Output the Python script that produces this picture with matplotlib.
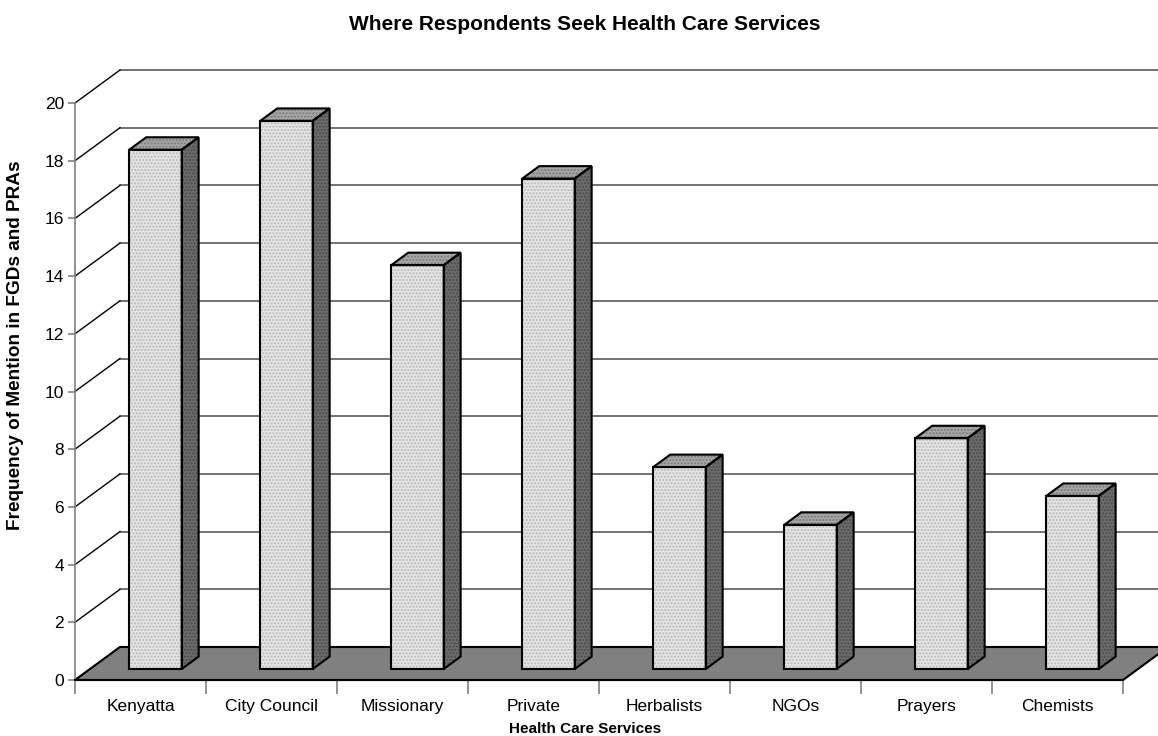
import matplotlib.pyplot as plt
from matplotlib.patches import Polygon
import numpy as np

categories = ['Kenyatta', 'City Council', 'Missionary', 'Private',
              'Herbalists', 'NGOs', 'Prayers', 'Chemists']
counts = [18, 19, 14, 17, 7, 5, 8, 6]
yticks = list(range(0, 21, 2))

title = 'Where Respondents Seek Health Care Services'
xlabel = 'Health Care Services'
ylabel = 'Frequency of Mention in FGDs and PRAs'

plt.rcParams['font.family'] = ['Liberation Sans', 'DejaVu Sans']

W, H = 1158, 736
fig = plt.figure(figsize=(W / 100, H / 100), dpi=100)
ax = fig.add_axes([75 / W, (H - 680) / H, 1048 / W, 577 / H])
n = len(categories)
ymax = 20
ax.set_xlim(-0.5, n - 0.5)
ax.set_ylim(0, ymax)

# depth of the 3d box in data units
dx = 45 / 131
dy = 33 / 577 * ymax
f0, f1 = 1 / 3, 0.71      # bar depth range (fraction of box depth)
bw = 0.4

# back wall gridlines + side diagonals
for v in yticks:
    if v > 0:
        ax.plot([-0.5 + dx, n - 0.5 + dx], [v + dy, v + dy], color='#5a5a5a',
                lw=1.2, clip_on=False, zorder=1)
    ax.plot([-0.5, -0.5 + dx], [v, v + dy], color='black', lw=1.0,
            clip_on=False, zorder=1)

# floor
floor = Polygon([(-0.5, 0), (n - 0.5, 0), (n - 0.5 + dx, dy), (-0.5 + dx, dy)],
                closed=True, facecolor='#808080', edgecolor='black', lw=1.5,
                clip_on=False, zorder=2)
ax.add_patch(floor)

# bars
b0 = f0 * dy
ddx, ddy = (f1 - f0) * dx, (f1 - f0) * dy
for i, v in enumerate(counts):
    x0 = i - bw / 2 + f0 * dx
    front = [(x0, b0), (x0 + bw, b0), (x0 + bw, b0 + v), (x0, b0 + v)]
    top = [(x0, b0 + v), (x0 + bw, b0 + v), (x0 + bw + ddx, b0 + v + ddy),
           (x0 + ddx, b0 + v + ddy)]
    side = [(x0 + bw, b0), (x0 + bw + ddx, b0 + ddy),
            (x0 + bw + ddx, b0 + v + ddy), (x0 + bw, b0 + v)]
    for pts, fc, hc in [(front, '#e4e4e4', '#b8b8b8'),
                        (top, '#a6a6a6', '#7a7a7a'),
                        (side, '#6c6c6c', '#4a4a4a')]:
        ax.add_patch(Polygon(pts, closed=True, facecolor=fc, edgecolor='none',
                             clip_on=False, zorder=3))
        ax.add_patch(Polygon(pts, closed=True, fill=False, edgecolor=hc, lw=0,
                             hatch='.....', clip_on=False, zorder=3))
        ax.add_patch(Polygon(pts, closed=True, fill=False, edgecolor='black',
                             lw=1.5, joinstyle='miter', clip_on=False, zorder=4))

# axes styling
for s in ['top', 'right']:
    ax.spines[s].set_visible(False)
ax.spines['left'].set_color('#808080')
ax.spines['left'].set_linewidth(1.2)
ax.spines['bottom'].set_color('black')
ax.spines['bottom'].set_linewidth(1.5)
ax.spines['bottom'].set_zorder(5)
ax.patch.set_visible(False)

ax.set_yticks(yticks)
ax.set_yticklabels([str(t) for t in yticks], fontsize=12.5)
ax.tick_params(axis='y', length=5, width=1.2, color='#808080', pad=3)

ax.set_xticks(np.arange(-0.5, n, 1))
ax.set_xticklabels([])
ax.tick_params(axis='x', which='major', length=10, width=1.2, color='#808080')
ax.set_xticks(np.arange(n), minor=True)
ax.set_xticklabels(categories, minor=True, fontsize=12.5)
ax.tick_params(axis='x', which='minor', length=0, pad=14)

fig.text(585 / W, 1 - 25 / H, title, ha='center', va='center',
         fontsize=15, fontweight='bold')
fig.text(585 / W, 1 - 729 / H, xlabel, ha='center', va='center',
         fontsize=11, fontweight='bold')
fig.text(16 / W, 1 - 345 / H, ylabel, ha='center', va='center',
         rotation=90, fontsize=13.7, fontweight='bold')

fig.savefig('out.png', dpi=100)
